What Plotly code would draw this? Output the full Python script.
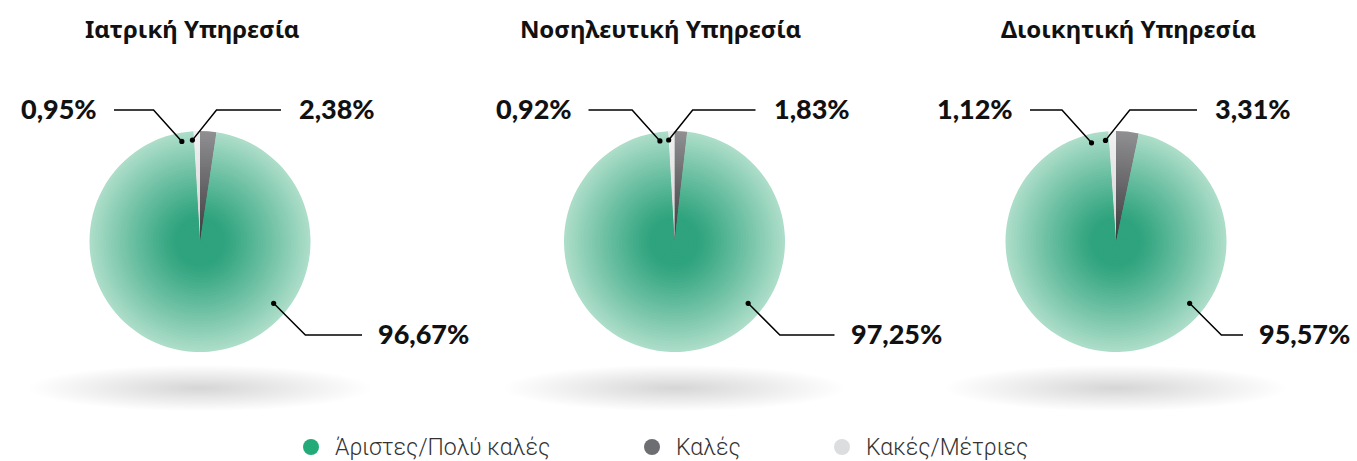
import math
import plotly.graph_objects as go

# ---------------- data ----------------
services = ["Ιατρική Υπηρεσία", "Νοσηλευτική Υπηρεσία", "Διοικητική Υπηρεσία"]
categories = ["Άριστες/Πολύ καλές", "Καλές", "Κακές/Μέτριες"]
excellent = [96.67, 97.25, 95.57]
good = [2.38, 1.83, 3.31]
poor = [0.95, 0.92, 1.12]

# ---------------- layout constants ----------------
W, H = 1357, 461
CX = [200, 674.5, 1116]
CY = 241.5
R = 110.5
TITLE_X = [192, 661, 1128]
GREEN_END = [162, 160, 127]     # horizontal end of bottom leader, relative to centre
N_LAYERS = 40

legend_colors = ["#22ab78", "#6d6e71", "#dcdddf"]
LEGEND_X = [311, 652, 842]
LEGEND_Y = 447


def px(x):
    return x / W


def py(y):
    return 1 - y / H


def mix(c0, c1, t):
    return "rgb(%d,%d,%d)" % tuple(round(a + (b - a) * t) for a, b in zip(c0, c1))


def green(t):
    u = min(max((t - 0.22) / 0.78, 0), 1)
    return mix((46, 163, 125), (172, 221, 201), u ** 1.1)


def dark(t):
    return mix((58, 58, 61), (143, 143, 146), t)


def light(t):
    return mix((208, 208, 210), (241, 241, 241), t)


fig = go.Figure()
shapes = []
annotations = []

for p in range(3):
    cx = CX[p]
    vals = [good[p], poor[p], excellent[p]]
    labs = [categories[1], categories[2], categories[0]]
    for i in range(N_LAYERS):
        k = (N_LAYERS - i) / N_LAYERS
        r = R * k
        fig.add_trace(go.Pie(
            values=vals, labels=labs, sort=False, direction="counterclockwise",
            rotation=0, textinfo="none", showlegend=False,
            hoverinfo="label+percent" if i == 0 else "skip",
            marker=dict(colors=[dark(k), light(k), green(k)], line=dict(width=0)),
            domain=dict(x=[px(cx - r), px(cx + r)], y=[py(CY + r), py(CY - r)]),
        ))

    # soft shadow under pie
    for j in range(40):
        f = 1 - j / 41
        a, b = 170 * f, 23 * f
        shapes.append(dict(type="circle", xref="paper", yref="paper", layer="below",
                           x0=px(cx - a), x1=px(cx + a), y0=py(388 + b), y1=py(388 - b),
                           fillcolor="rgba(140,140,144,0.0085)", line=dict(width=0)))

    # title
    annotations.append(dict(x=px(TITLE_X[p]), y=py(29), xref="paper", yref="paper",
                            text="<b>%s</b>" % services[p], showarrow=False,
                            xanchor="center", yanchor="middle",
                            font=dict(family="Noto Sans", size=24, color="#111")))

    def dot(x, y):
        shapes.append(dict(type="circle", xref="paper", yref="paper", layer="above",
                           x0=px(x - 2.6), x1=px(x + 2.6), y0=py(y + 2.6), y1=py(y - 2.6),
                           fillcolor="black", line=dict(width=0)))

    def poly(pts):
        path = "M " + " L ".join("%f,%f" % (px(x), py(y)) for x, y in pts)
        shapes.append(dict(type="path", xref="paper", yref="paper", layer="above",
                           path=path, line=dict(color="black", width=1.5)))

    def label(x, y, txt, anchor):
        annotations.append(dict(x=px(x), y=py(y), xref="paper", yref="paper",
                                text=txt, showarrow=False,
                                xanchor=anchor, yanchor="middle",
                                font=dict(family="Lato", size=27, color="#111", weight=900)))

    fmt = lambda v: ("%.2f%%" % v).replace(".", ",")

    # dark slice (Καλές)
    a = math.radians(good[p] / 100 * 360 / 2)
    rr = 0.92 * R
    dx, dy = cx - rr * math.sin(a), CY - rr * math.cos(a)
    ey = 110
    ex = dx + (dy - ey) * 0.8
    poly([(dx, dy), (ex, ey), (cx + 81, ey)])
    dot(dx, dy)
    label(cx + 97, 108, fmt(good[p]), "left")

    # light slice (Κακές/Μέτριες)
    a = math.radians((good[p] + poor[p] / 2) / 100 * 360)
    dx, dy = cx - rr * math.sin(a), CY - rr * math.cos(a)
    ex = dx - (dy - ey) * 0.9
    poly([(dx, dy), (ex, ey), (cx - 86, ey)])
    dot(dx, dy)
    label(cx - 101, 108, fmt(poor[p]), "right")

    # green slice
    a = math.radians(130)
    rg = 0.87 * R
    dx, dy = cx + rg * math.sin(a), CY - rg * math.cos(a)
    gy = 335
    gx = dx + (gy - dy) * 1.0
    poly([(dx, dy), (gx, gy), (cx + GREEN_END[p], gy)])
    dot(dx, dy)
    label(cx + GREEN_END[p] + 14, 333, fmt(excellent[p]), "left")

# legend
for c, name, lx in zip(legend_colors, categories, LEGEND_X):
    rr = 8
    shapes.append(dict(type="circle", xref="paper", yref="paper", layer="above",
                       x0=px(lx - rr), x1=px(lx + rr), y0=py(LEGEND_Y + rr), y1=py(LEGEND_Y - rr),
                       fillcolor=c, line=dict(width=0)))
    annotations.append(dict(x=px(lx + 22), y=py(LEGEND_Y), xref="paper", yref="paper",
                            text=name, showarrow=False, xanchor="left", yanchor="middle",
                            font=dict(family="Roboto", size=23, color="#333", weight=300)))

fig.update_layout(
    width=W, height=H, margin=dict(l=0, r=0, t=0, b=0),
    paper_bgcolor="white", plot_bgcolor="white",
    shapes=shapes, annotations=annotations, showlegend=False,
)
fig.write_html("out.html", config={"displayModeBar": False},
               post_script="document.body.style.margin='0';document.body.style.overflow='hidden';")
